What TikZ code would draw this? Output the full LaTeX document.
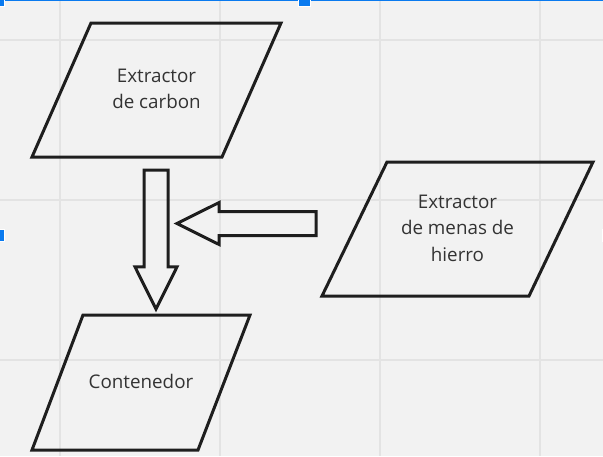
\documentclass[tikz,border=0pt]{standalone}
\usepackage{fontspec}
\setmainfont{Open Sans}
\usetikzlibrary{shapes.arrows}
\definecolor{ink}{HTML}{1E1E1E}
\definecolor{txt}{HTML}{333333}
\definecolor{paper}{HTML}{F2F2F2}
\definecolor{gridline}{HTML}{E3E3E3}
\definecolor{sel}{HTML}{0A7AEF}

\begin{document}
\begin{tikzpicture}[
		x=1pt, y=-1pt,
		io/.style={draw=ink, line width=3pt},
		lbl/.style={align=center, text=txt, font=\fontsize{18.8}{26.5}\selectfont},
		flow/.style={single arrow, draw=ink, line width=3pt, minimum width=39pt, minimum height=139pt, single arrow head extend=9pt, single arrow tip angle=53, inner xsep=0pt, inner ysep=10.5pt, anchor=tail},
		handle/.style={fill=sel, draw=white, line width=1pt},
	]
		\useasboundingbox (0,0) rectangle (603,456);
		\fill[paper] (0,0) rectangle (603,456);
		\foreach \x in {60,220,380,540}
			\draw[gridline, line width=1.5pt] (\x,0) -- (\x,456);
		\foreach \y in {40,200,360}
			\draw[gridline, line width=1.5pt] (0,\y) -- (603,\y);

		\draw[io] (91,23) -- (281,23) -- (222,157) -- (32,157) -- cycle;
		\node[lbl] (carbon) at (156.5,89) {Extractor\\de carbon};
		\draw[io] (387,162) -- (593,162) -- (529,296) -- (322,296) -- cycle;
		\node[lbl] (hierro) at (457.5,228) {Extractor\\de menas de\\hierro};
		\draw[io] (83,315) -- (250,315) -- (198,450) -- (32,450) -- cycle;
		\node[lbl] (cont) at (141,381) {Contenedor};

		\node[flow, rotate=-90] (down) at (156,168.5) {};
		\node[flow, rotate=180] (left) at (317.5,223.5) {};

		\fill[sel] (0,0) rectangle (603,1.3);
		\filldraw[handle] (-6,-0.5) rectangle (4.5,6.5);
		\filldraw[handle] (298,-0.5) rectangle (310.5,6.5);
		\filldraw[handle] (-6,229.5) rectangle (4.5,241.5);
		\filldraw[handle] (602.5,229.5) rectangle (612,241.5);
	\end{tikzpicture}
\end{document}
